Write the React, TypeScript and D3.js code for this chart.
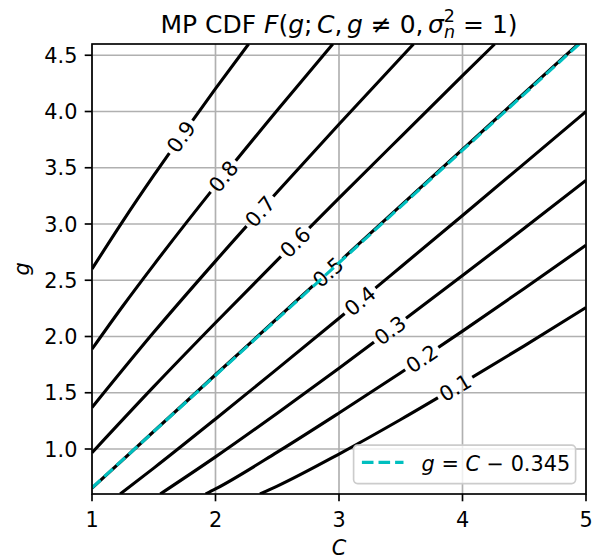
import * as d3 from "d3";
import React from "react";

// figure geometry (px)
const width = 603;
const height = 559;
const marginTop = 44;
const marginRight = 17;
const marginBottom = 65;
const marginLeft = 92;

const xDomain = [1, 5];
const yDomain = [0.6, 4.6];
const xTicks = [1, 2, 3, 4, 5];
const yTicks = [1.0, 1.5, 2.0, 2.5, 3.0, 3.5, 4.0, 4.5];

const levels = [0.1, 0.2, 0.3, 0.4, 0.5, 0.6, 0.7, 0.8, 0.9];

// contour points: [C, g]
const cdf01 = [[2.36, 0.6], [2.5, 0.67], [3, 0.955], [3.5, 1.262], [4, 1.585], [4.5, 1.917], [5, 2.258]];
const cdf02 = [[1.92, 0.6], [2, 0.645], [2.5, 0.972], [3, 1.32], [3.5, 1.678], [4, 2.048], [4.5, 2.427], [5, 2.812]];
const cdf03 = [[1.553, 0.6], [2, 0.93], [2.5, 1.318], [3, 1.717], [3.5, 2.127], [4, 2.542], [4.5, 2.962], [5, 3.388]];
const cdf04 = [[1.228, 0.6], [1.5, 0.83], [2, 1.267], [2.5, 1.712], [3, 2.162], [3.5, 2.618], [4, 3.076], [4.5, 3.537], [5, 4.0]];
const cdf05 = [[1, 0.653], [2, 1.66], [3, 2.662], [4, 3.664], [4.937, 4.6]];
const cdf06 = [[1, 0.967], [1.5, 1.554], [2, 2.122], [2.5, 2.679], [3, 3.23], [3.5, 3.775], [4, 4.318], [4.261, 4.6]];
const cdf07 = [[1, 1.369], [1.5, 2.037], [2, 2.67], [2.5, 3.284], [3, 3.886], [3.5, 4.478], [3.604, 4.6]];
const cdf08 = [[1, 1.888], [1.25, 2.271], [1.5, 2.637], [2, 3.339], [2.5, 4.011], [2.95, 4.6]];
const cdf09 = [[1, 2.6], [1.25, 3.026], [1.5, 3.432], [1.75, 3.822], [2, 4.203], [2.268, 4.6]];

const contourPts = [cdf01, cdf02, cdf03, cdf04, cdf05, cdf06, cdf07, cdf08, cdf09];

// where along C each inline label sits
const labelC = [3.94, 3.67, 3.413, 3.17, 2.91, 2.644, 2.36, 2.063, 1.72];

// median fit g = C - 0.345
const fitLabel = "0.345";
const fitLine = [[1, 0.655], [5, 4.655]];

const font = "DejaVu Sans";
const fs = 20.8;
const lw = 3.1;
const cyan = "#00bfbf";

export default function App() {
  const x = d3.scaleLinear(xDomain, [marginLeft, width - marginRight]);
  const y = d3.scaleLinear(yDomain, [height - marginBottom, marginTop]);
  const line = d3
    .line<number[]>()
    .x((d) => x(d[0]))
    .y((d) => y(d[1]))
    .curve(d3.curveMonotoneX);

  const labels = contourPts.map((pts, i) => {
    const interp = d3.scaleLinear(
      pts.map((p) => p[0]),
      pts.map((p) => p[1])
    );
    const c = labelC[i];
    const ax = x(c - 0.05), ay = y(interp(c - 0.05));
    const bx = x(c + 0.05), by = y(interp(c + 0.05));
    return {
      px: x(c),
      py: y(interp(c)),
      angle: (Math.atan2(by - ay, bx - ax) * 180) / Math.PI,
      text: levels[i].toFixed(1),
    };
  });

  const x0 = marginLeft, x1 = width - marginRight;
  const y0 = marginTop, y1 = height - marginBottom;
  const cx = (x0 + x1) / 2;

  // legend box
  const legR = x1 - 10.4, legB = y1 - 10.4;
  const legW = 222, legH = 38.5;
  const legL = legR - legW, legT = legB - legH;

  return (
    <svg
      width={width}
      height={height}
      style={{ position: "absolute", left: 0, top: 0, background: "white" }}
      fontFamily={font}
    >
      <defs>
        <clipPath id="plot">
          <rect x={x0} y={y0} width={x1 - x0} height={y1 - y0} />
        </clipPath>
        {labels.map((l, i) => (
          <mask id={`gap${i}`} key={i} maskUnits="userSpaceOnUse" x={0} y={0} width={width} height={height}>
            <rect x={0} y={0} width={width} height={height} fill="white" />
            <rect
              x={-20}
              y={-12}
              width={40}
              height={24}
              fill="black"
              transform={`translate(${l.px},${l.py}) rotate(${l.angle})`}
            />
          </mask>
        ))}
      </defs>

      {/* grid */}
      <g stroke="#b0b0b0" strokeWidth={1.67}>
        {xTicks.map((t) => (
          <line key={t} x1={x(t)} x2={x(t)} y1={y0} y2={y1} />
        ))}
        {yTicks.map((t) => (
          <line key={t} x1={x0} x2={x1} y1={y(t)} y2={y(t)} />
        ))}
      </g>

      {/* contours */}
      <g clipPath="url(#plot)">
        {contourPts.map((pts, i) => (
          <path
            key={i}
            d={line(pts) ?? ""}
            fill="none"
            stroke="black"
            strokeWidth={lw}
            mask={`url(#gap${i})`}
          />
        ))}
      </g>
      {labels.map((l, i) => (
        <text
          key={i}
          x={0}
          y={0}
          dy="0.36em"
          textAnchor="middle"
          fontSize={fs}
          transform={`translate(${l.px},${l.py}) rotate(${l.angle})`}
        >
          {l.text}
        </text>
      ))}

      {/* fitted median line */}
      <g clipPath="url(#plot)">
        <path
          d={d3.line()(fitLine.map((d) => [x(d[0]), y(d[1])]) as [number, number][]) ?? ""}
          fill="none"
          stroke={cyan}
          strokeWidth={lw}
          strokeDasharray="11.6 5"
        />
      </g>

      {/* spines */}
      <rect x={x0} y={y0} width={x1 - x0} height={y1 - y0} fill="none" stroke="black" strokeWidth={1.67} />

      {/* x axis */}
      <g fontSize={fs} textAnchor="middle">
        {xTicks.map((t) => (
          <g key={t} transform={`translate(${x(t)},${y1})`}>
            <line y2={7.3} stroke="black" strokeWidth={1.67} />
            <text y={33}>{t}</text>
          </g>
        ))}
        <text x={cx} y={555} fontStyle="italic">C</text>
      </g>

      {/* y axis */}
      <g fontSize={fs} textAnchor="end">
        {yTicks.map((t) => (
          <g key={t} transform={`translate(${x0},${y(t)})`}>
            <line x2={-7.3} stroke="black" strokeWidth={1.67} />
            <text x={-14.6} dy="0.36em">{t.toFixed(1)}</text>
          </g>
        ))}
        <text
          textAnchor="middle"
          fontStyle="italic"
          transform={`translate(28.5,${(y0 + y1) / 2}) rotate(-90)`}
        >
          g
        </text>
      </g>

      {/* title */}
      <text x={cx} y={33} textAnchor="middle" fontSize={25}>
        <tspan>MP CDF </tspan>
        <tspan fontStyle="italic">F</tspan>
        <tspan>(</tspan>
        <tspan fontStyle="italic">g</tspan>
        <tspan>;</tspan>
        <tspan fontStyle="italic" dx={4.5}>C</tspan>
        <tspan>,</tspan>
        <tspan fontStyle="italic" dx={4.5}>g</tspan>
        <tspan> ≠ 0,</tspan>
        <tspan fontStyle="italic" dx={4.5}>σ</tspan>
        <tspan fontSize={17.5} dy={-11}>2</tspan>
        <tspan fontSize={17.5} fontStyle="italic" dx={-11} dy={16}>n</tspan>
        <tspan dy={-5}> = 1)</tspan>
      </text>

      {/* legend */}
      <g>
        <rect
          x={legL}
          y={legT}
          width={legW}
          height={legH}
          rx={4}
          fill="white"
          fillOpacity={0.8}
          stroke="#cccccc"
          strokeWidth={1.67}
        />
        <line
          x1={legL + 8.3}
          x2={legL + 8.3 + 41.6}
          y1={legT + legH / 2 - 2}
          y2={legT + legH / 2 - 2}
          stroke={cyan}
          strokeWidth={lw}
          strokeDasharray="11.6 5"
        />
        <text x={legL + 68} y={legT + 25.5} fontSize={fs}>
          <tspan fontStyle="italic">g</tspan>
          <tspan> = </tspan>
          <tspan fontStyle="italic">C</tspan>
          <tspan> − {fitLabel}</tspan>
        </text>
      </g>
    </svg>
  );
}
